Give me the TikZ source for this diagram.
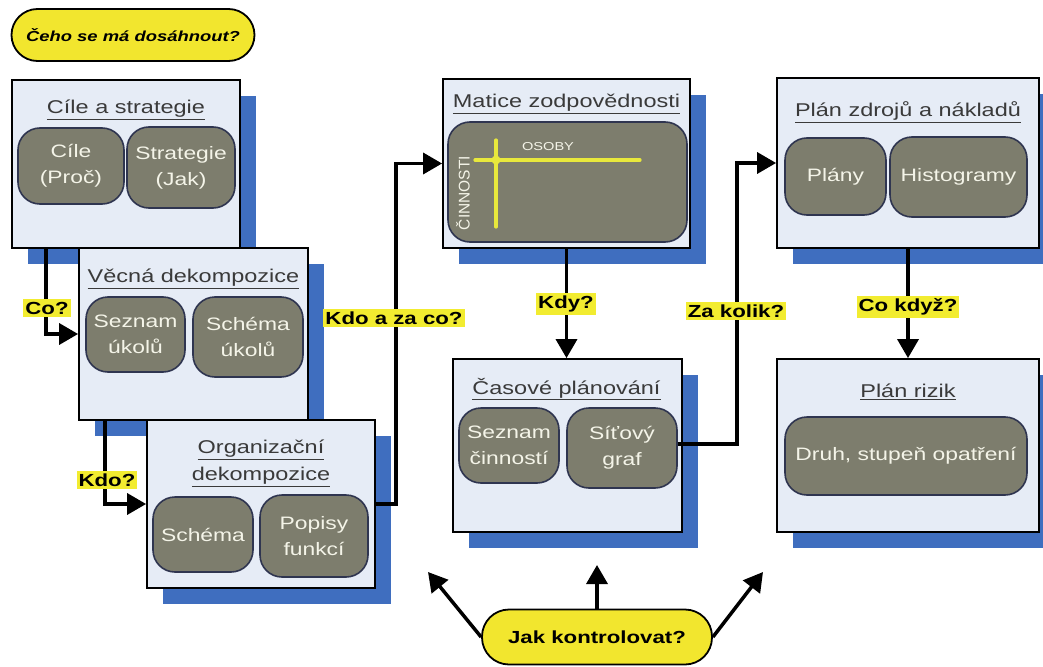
\documentclass[tikz,border=0pt]{standalone}
\usepackage{fontspec}
\setmainfont{Liberation Sans}
\usepackage{graphicx}
\usetikzlibrary{arrows.meta,shadows}
\newcommand{\hs}[1]{\scalebox{1.27}[1]{#1}}
\definecolor{boxfill}{HTML}{E6ECF6}
\definecolor{shadowblue}{HTML}{3F6EBF}
\definecolor{innerfill}{HTML}{7D7D6D}
\definecolor{innerdraw}{HTML}{2F3550}
\definecolor{innertext}{HTML}{F4F4E8}
\definecolor{titlegray}{HTML}{3A3A3A}
\definecolor{labyellow}{HTML}{F2EC30}
\definecolor{pillyellow}{HTML}{F2E62E}
\definecolor{mline}{HTML}{E8E83C}
\begin{document}
\begin{tikzpicture}[x=1pt,y=-1pt,
  box/.style={draw=black,line width=1.8pt,fill=boxfill,inner sep=0pt,
    drop shadow={shadow xshift=16pt,shadow yshift=-16pt,fill=shadowblue,opacity=1}},
  inner/.style={draw=innerdraw,line width=1.6pt,fill=innerfill,rounded corners=22pt,
    text=innertext,font=\fontsize{18}{26}\selectfont,align=center,inner sep=0pt},
  title/.style={text=titlegray,font=\fontsize{18.5}{27}\selectfont,align=center,inner sep=0pt},
  lab/.style={fill=labyellow,inner xsep=2pt,inner ysep=3pt,font=\bfseries\fontsize{17.5}{20}\selectfont},
  pill/.style={draw=black,line width=1.8pt,fill=pillyellow,rounded corners=26pt,inner sep=0pt},
  arr/.style={line width=3.5pt,-{Triangle[length=19pt,width=21pt]}}]
\clip (0,0) rectangle (1043,666);
\useasboundingbox (0,0) rectangle (1043,666);

% pill top
\node[pill,minimum width=243pt,minimum height=52pt,font=\bfseries\itshape\fontsize{14.5}{16}\selectfont] (Q) at (133,35) {\hs{Čeho se má dosáhnout?}};

% boxes
\node[box,minimum width=228pt,minimum height=168pt] (B1) at (126,164) {};
\node[title] (T1) at (126,110) {\hs{\underline{Cíle a strategie}}};
\node[inner,minimum width=106pt,minimum height=76pt] (I11) at (71,166) {\hs{Cíle}\\\hs{(Proč)}};
\node[inner,minimum width=108pt,minimum height=81pt] (I12) at (181,167.5) {\hs{Strategie}\\\hs{(Jak)}};

\node[box,minimum width=229pt,minimum height=172pt] (B2) at (193.5,334) {};
\node[title] (T2) at (193.5,279) {\hs{\underline{Věcná dekompozice}}};
\node[inner,minimum width=99pt,minimum height=75pt] (I21) at (135.5,334.5) {\hs{Seznam}\\\hs{úkolů}};
\node[inner,minimum width=110pt,minimum height=80pt] (I22) at (248,337) {\hs{Schéma}\\\hs{úkolů}};

\node[box,minimum width=228pt,minimum height=168pt] (B3) at (261,504) {};
\node[title] (T3) at (261,463.5) {\hs{\underline{Organizační}}\\\hs{\underline{dekompozice}}};
\node[inner,minimum width=100pt,minimum height=75pt] (I31) at (203,534.5) {\hs{Schéma}};
\node[inner,minimum width=108pt,minimum height=82pt] (I32) at (314,536) {\hs{Popisy}\\\hs{funkcí}};

\node[box,minimum width=247pt,minimum height=169pt] (B4) at (566.5,163.5) {};
\node[title] (T4) at (566.5,104) {\hs{\underline{Matice zodpovědnosti}}};
\node[inner,minimum width=239pt,minimum height=120pt] (M) at (567.5,182) {};
\draw[mline,line width=3.2pt,line cap=round] (475,160) -- (640,160);
\draw[mline,line width=3.2pt,line cap=round] (496,140) -- (496,227);
\fill[mline] (496,160) circle (4.5pt);
\node[text=innertext,font=\fontsize{11.5}{13}\selectfont,inner sep=0pt] (OS) at (548,147) {\hs{OSOBY}};
\node[text=innertext,font=\fontsize{15.5}{17}\selectfont,inner sep=0pt,rotate=90] (CI) at (463,193) {ČINNOSTI};

\node[box,minimum width=229pt,minimum height=173pt] (B5) at (567.5,445.5) {};
\node[title] (T5) at (566.5,389) {\hs{\underline{Časové plánování}}};
\node[inner,minimum width=100pt,minimum height=75pt] (I51) at (509,445.5) {\hs{Seznam}\\\hs{činností}};
\node[inner,minimum width=110pt,minimum height=80pt] (I52) at (622,448) {\hs{Síťový}\\\hs{graf}};

\node[box,minimum width=262pt,minimum height=170pt] (B6) at (908,163) {};
\node[title] (T6) at (908,112) {\hs{\underline{Plán zdrojů a nákladů}}};
\node[inner,minimum width=101pt,minimum height=77pt] (I61) at (835.5,176.5) {\hs{Plány}};
\node[inner,minimum width=137pt,minimum height=80pt] (I62) at (958.5,177) {\hs{Histogramy}};

\node[box,minimum width=262pt,minimum height=173pt] (B7) at (908,445.5) {};
\node[title] (T7) at (908,392) {\hs{\underline{Plán rizik}}};
\node[inner,minimum width=242pt,minimum height=78pt] (I71) at (906,456) {\hs{Druh, stupeň opatření}};

% connectors
\draw[arr] ([xshift=35pt]B1.south west) |- (B2.west);
\draw[arr] ([xshift=27pt]B2.south west) |- (B3.west);
\draw[arr] (B3.east) -- ++(20,0) |- (B4.west);
\draw[arr] (B4.south) -- (B4.south |- B5.north);
\draw[arr] ([yshift=4pt]I52.east) -- ++(59,0) |- (B6.west);
\draw[arr] (B6.south) -- (B7.north);

% labels
\node[lab] (L1) at (47,308) {\hs{Co?}};
\node[lab] (L2) at (107,480) {\hs{Kdo?}};
\node[lab] (L3) at (394,318) {\hs{Kdo a za co?}};
\node[lab] (L4) at (566,304) {\hs{Kdy?}};
\node[lab] (L5) at (736,311) {\hs{Za kolik?}};
\node[lab] (L6) at (908,307) {\hs{Co když?}};

% bottom pill
\node[pill,minimum width=230pt,minimum height=55pt,rounded corners=27pt,font=\bfseries\fontsize{17.5}{20}\selectfont] (J) at (597,637) {\hs{Jak kontrolovat?}};
\coordinate (t1) at (428,572);
\coordinate (t2) at (597,565);
\coordinate (t3) at (763,572);
\draw[arr] (J.west) -- (t1);
\draw[arr] (J.north) -- (t2);
\draw[arr] (J.east) -- (t3);
\end{tikzpicture}
\end{document}
